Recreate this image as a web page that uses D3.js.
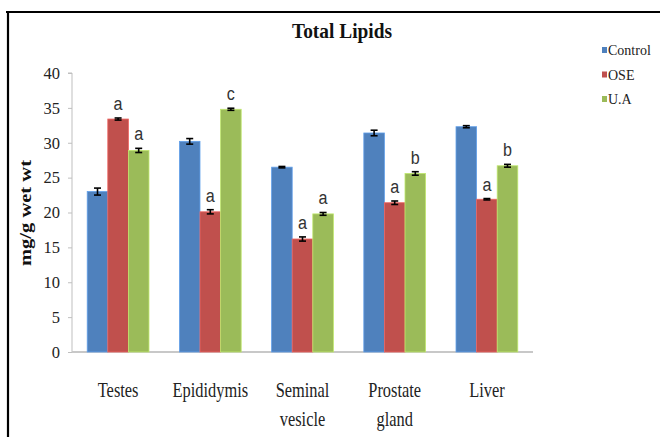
<!DOCTYPE html>
<html>
<head>
<meta charset="utf-8">
<script src="https://cdn.jsdelivr.net/npm/d3@7"></script>
<style>
  html, body { margin: 0; padding: 0; background: #fff; }
  svg { display: block; }
</style>
</head>
<body>
<svg id="chart" width="665" height="437"></svg>
<script>
// Total lipids (mg/g wet wt) by tissue and treatment group
const categories = [["Testes"], ["Epididymis"], ["Seminal", "vesicle"], ["Prostate", "gland"], ["Liver"]];
const seriesNames = ["Control", "OSE", "U.A"];
const controlValues = [23.0, 30.2, 26.5, 31.4, 32.3];
const oseValues     = [33.4, 20.1, 16.2, 21.4, 21.9];
const uaValues      = [28.9, 34.8, 19.8, 25.6, 26.7];
const controlErrors = [0.5, 0.4, 0.1, 0.4, 0.15];
const oseErrors     = [0.15, 0.3, 0.3, 0.25, 0.1];
const uaErrors      = [0.3, 0.15, 0.2, 0.25, 0.2];
const controlLetters = ["", "", "", "", ""];
const oseLetters     = ["a", "a", "a", "a", "a"];
const uaLetters      = ["a", "c", "a", "b", "b"];
const yTicks = [0, 5, 10, 15, 20, 25, 30, 35, 40];
const colors = ["#4F81BD", "#C0504D", "#9BBB59"];

const values = [controlValues, oseValues, uaValues];
const errors = [controlErrors, oseErrors, uaErrors];
const letters = [controlLetters, oseLetters, uaLetters];

const serif = "'Liberation Serif', 'Times New Roman', serif";
const svg = d3.select("#chart");
const plot = { left: 72, right: 533, top: 73, bottom: 352 };

// Frame lines (top and left)
svg.append("line").attr("x1", 6).attr("x2", 660).attr("y1", 12).attr("y2", 12)
  .attr("stroke", "#000").attr("stroke-width", 2.2);
svg.append("line").attr("x1", 8).attr("x2", 8).attr("y1", 11).attr("y2", 437)
  .attr("stroke", "#000").attr("stroke-width", 2.2);

const x0 = d3.scaleBand().domain(d3.range(categories.length))
  .range([plot.left, plot.right]).paddingInner(0.33).paddingOuter(0.165);
const x1 = d3.scaleBand().domain(d3.range(seriesNames.length))
  .range([0, x0.bandwidth()]);
const y = d3.scaleLinear().domain([0, 40]).range([plot.bottom, plot.top]);

// Y axis
const yAxis = svg.append("g").attr("transform", `translate(${plot.left},0)`)
  .call(d3.axisLeft(y).tickValues(yTicks).tickSize(4).tickPadding(8).tickFormat(d3.format("d")))
  .attr("font-family", serif).attr("font-size", 16);
yAxis.select(".domain").attr("stroke", "#bfbfbf").attr("d", `M-4,${plot.top}H0V${plot.bottom}`);
yAxis.selectAll(".tick line").attr("stroke", "#bfbfbf");
yAxis.selectAll(".tick text")
  .style("font-family", serif)
  .style("font-size", "16.5px").attr("fill", "#222");

// X axis baseline
svg.append("line").attr("x1", plot.left).attr("x2", plot.right)
  .attr("y1", plot.bottom).attr("y2", plot.bottom)
  .attr("stroke", "#c8c8c8").attr("stroke-width", 2);

// Bars
const groups = svg.append("g").selectAll("g").data(categories).join("g")
  .attr("transform", (d, i) => `translate(${x0(i)},0)`);

groups.each(function (cat, ci) {
  const g = d3.select(this);
  seriesNames.forEach((s, si) => {
    const v = values[si][ci];
    const e = errors[si][ci];
    const bx = x1(si);
    const bw = x1.bandwidth();
    g.append("rect")
      .attr("x", bx).attr("y", y(v))
      .attr("width", bw).attr("height", y(0) - y(v))
      .attr("fill", colors[si])
      .attr("stroke", d3.color(colors[si]).brighter(0.6)).attr("stroke-width", 0.8);
    const cx = bx + bw / 2;
    const eb = g.append("g").attr("stroke", "#000").attr("stroke-width", 1.6);
    eb.append("line").attr("x1", cx).attr("x2", cx).attr("y1", y(v + e)).attr("y2", y(v - e));
    eb.append("line").attr("x1", cx - 3.5).attr("x2", cx + 3.5).attr("y1", y(v + e)).attr("y2", y(v + e));
    eb.append("line").attr("x1", cx - 3.5).attr("x2", cx + 3.5).attr("y1", y(v - e)).attr("y2", y(v - e));
    const lab = letters[si][ci];
    if (lab) {
      g.append("text")
        .attr("x", cx).attr("y", y(v + e) - 8)
        .attr("text-anchor", "middle")
        .attr("font-family", "'Liberation Sans', Arial, sans-serif")
        .attr("font-size", 19).attr("fill", "#333")
        .attr("transform", `translate(${cx},0) scale(0.85,1) translate(${-cx},0)`)
        .text(lab);
    }
  });
});

// Category labels
const xl = svg.append("g");
categories.forEach((lines, i) => {
  const cx = x0(i) + x0.bandwidth() / 2;
  lines.forEach((ln, li) => {
    xl.append("text")
      .attr("x", cx).attr("y", 397 + li * 29)
      .attr("text-anchor", "middle")
      .attr("font-family", serif)
      .attr("font-size", 20).attr("fill", "#222")
      .attr("transform", `translate(${cx},0) scale(0.82,1) translate(${-cx},0)`)
      .text(ln);
  });
});

// Y axis title
svg.append("text")
  .attr("transform", "translate(31,213) rotate(-90)")
  .attr("text-anchor", "middle")
  .attr("font-family", serif)
  .attr("font-weight", "bold").attr("font-size", 17).attr("fill", "#111")
  .attr("textLength", 106).attr("lengthAdjust", "spacingAndGlyphs")
  .text("mg/g wet wt");

// Chart title
svg.append("text")
  .attr("x", 342).attr("y", 38)
  .attr("text-anchor", "middle")
  .attr("font-family", serif)
  .attr("font-weight", "bold").attr("font-size", 21).attr("fill", "#111")
  .attr("textLength", 100).attr("lengthAdjust", "spacingAndGlyphs")
  .text("Total Lipids");

// Legend
const legend = svg.append("g").attr("transform", "translate(602,50)");
seriesNames.forEach((s, i) => {
  const row = legend.append("g").attr("transform", `translate(0,${i * 24.5})`);
  row.append("rect").attr("x", 0).attr("y", -3).attr("width", 5).attr("height", 6).attr("fill", colors[i]);
  row.append("text").attr("x", 6).attr("y", 5)
    .attr("font-family", serif)
    .attr("font-size", 14).attr("fill", "#222")
    .text(s);
});
</script>
</body>
</html>
